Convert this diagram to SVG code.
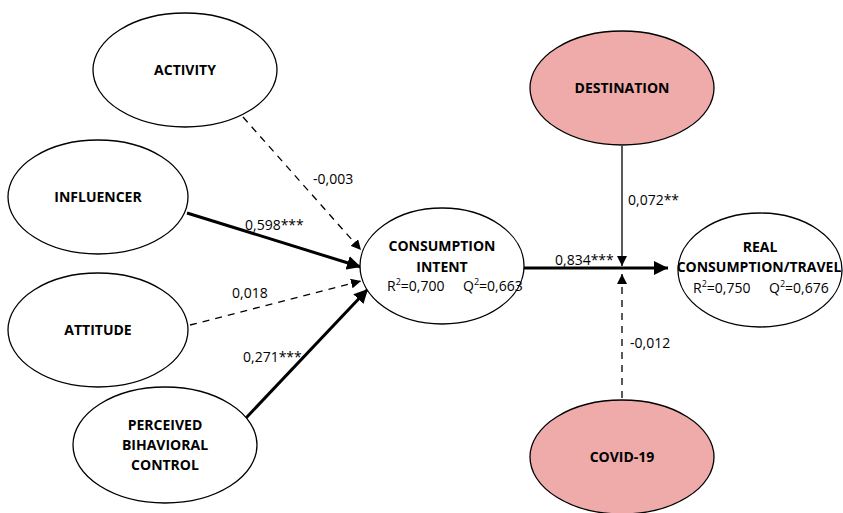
<svg xmlns="http://www.w3.org/2000/svg" width="843" height="513" viewBox="0 0 843 513">
<defs>
<style>
.n{fill:#fff;stroke:#000;stroke-width:1.3}
.p{fill:#EFAAAA;stroke:#000;stroke-width:1.3}
.t{font-family:"Open Sans","Liberation Sans",sans-serif;font-weight:bold;font-size:14px;text-anchor:middle;fill:#000}
.s{font-family:"Open Sans","Liberation Sans",sans-serif;font-size:14px;fill:#000}
.c{stroke:#000;fill:none}
.thick{stroke-width:3}
.thin{stroke-width:1.3}
.dash{stroke-width:1.3;stroke-dasharray:7,6}
</style>
<marker id="ah" viewBox="0 0 10 10" refX="10" refY="5" markerWidth="10" markerHeight="10" markerUnits="userSpaceOnUse" orient="auto"><path d="M0,0L10,5L0,10z" fill="#000"/></marker>
<marker id="ahb" viewBox="0 0 10 10" refX="10" refY="5" markerWidth="14" markerHeight="14" markerUnits="userSpaceOnUse" orient="auto"><path d="M0,0L10,5L0,10z" fill="#000"/></marker>
</defs>
<rect width="843" height="513" fill="#fff"/>
<g id="connectors">
<line class="c dash" x1="243" y1="117" x2="361" y2="250" marker-end="url(#ah)"/>
<line class="c thick" x1="187" y1="213" x2="361" y2="267" marker-end="url(#ahb)"/>
<line class="c dash" x1="190" y1="325" x2="361" y2="281" marker-end="url(#ah)"/>
<line class="c thick" x1="246" y1="418" x2="368" y2="289" marker-end="url(#ahb)"/>
<line class="c thick" x1="524" y1="268" x2="668" y2="268" marker-end="url(#ahb)"/>
<line class="c thin" x1="622" y1="146" x2="622" y2="266" marker-end="url(#ah)"/>
<line class="c dash" x1="622" y1="398" x2="622" y2="274" marker-end="url(#ah)"/>
<text class="s" x="313" y="184">-0,003</text>
<text class="s" x="245" y="230">0,598***</text>
<text class="s" x="232" y="298">0,018</text>
<text class="s" x="243" y="362">0,271***</text>
<text class="s" x="555" y="265">0,834***</text>
<text class="s" x="628" y="205">0,072**</text>
<text class="s" x="630" y="348">-0,012</text>
</g>
<g id="activity"><ellipse class="n" cx="185" cy="70" rx="92" ry="57"/><text class="t" x="185" y="75">ACTIVITY</text></g>
<g id="influencer"><ellipse class="n" cx="98" cy="197" rx="90" ry="57"/><text class="t" x="98" y="202">INFLUENCER</text></g>
<g id="attitude"><ellipse class="n" cx="98" cy="330" rx="90" ry="57"/><text class="t" x="98" y="335">ATTITUDE</text></g>
<g id="pbc"><ellipse class="n" cx="165" cy="445" rx="92" ry="58"/><text class="t" x="165" y="430">PERCEIVED</text><text class="t" x="165" y="450">BIHAVIORAL</text><text class="t" x="165" y="470">CONTROL</text></g>
<g id="intent"><ellipse class="n" cx="442" cy="266" rx="82" ry="58"/><text class="t" x="442" y="251">CONSUMPTION</text><text class="t" x="442" y="272">INTENT</text><text class="s" x="387" y="291">R<tspan dy="-6" font-size="9">2</tspan><tspan dy="6">=0,700</tspan></text><text class="s" x="463" y="291">Q<tspan dy="-6" font-size="9">2</tspan><tspan dy="6">=0,663</tspan></text></g>
<g id="destination"><ellipse class="p" cx="622" cy="88" rx="92" ry="57"/><text class="t" x="622" y="93">DESTINATION</text></g>
<g id="covid"><ellipse class="p" cx="622" cy="457" rx="92" ry="57"/><text class="t" x="622" y="462">COVID-19</text></g>
<g id="real"><ellipse class="n" cx="760" cy="270" rx="82" ry="57"/><text class="t" x="760" y="252">REAL</text><text class="t" x="759" y="272" font-size="13">CONSUMPTION/TRAVEL</text><text class="s" x="693" y="293">R<tspan dy="-6" font-size="9">2</tspan><tspan dy="6">=0,750</tspan></text><text class="s" x="769" y="293">Q<tspan dy="-6" font-size="9">2</tspan><tspan dy="6">=0,676</tspan></text></g>
</svg>
